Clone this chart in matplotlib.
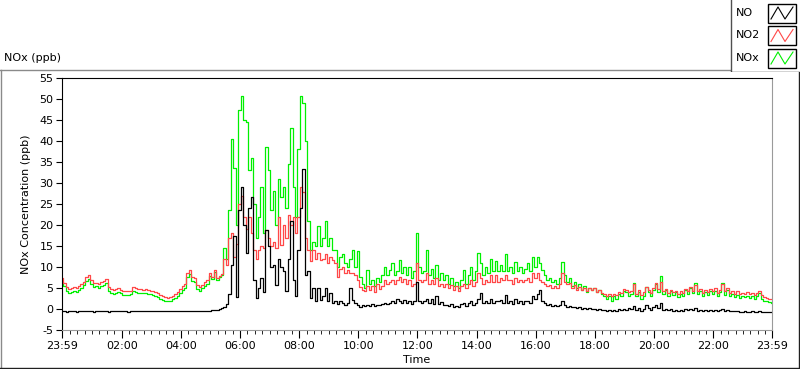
import numpy as np
import matplotlib
matplotlib.use("Agg")
import matplotlib.pyplot as plt
from matplotlib.patches import Rectangle

plt.rcParams['font.family'] = ['DejaVu Sans']
plt.rcParams['axes.unicode_minus'] = False

# 5-minute samples from 23:59 to 23:59 (minutes since start), one row per hour
minutes = np.arange(0, 1441, 5)

no_ppb = [
    -0.5, -0.5, -0.6, -0.5, -0.5, -0.5, -0.6, -0.5, -0.5, -0.5, -0.5, -0.5,
    -0.5, -0.6, -0.5, -0.5, -0.5, -0.5, -0.5, -0.6, -0.5, -0.5, -0.5, -0.5,
    -0.5, -0.5, -0.5, -0.6, -0.5, -0.5, -0.5, -0.5, -0.5, -0.4, -0.5, -0.5,
    -0.5, -0.5, -0.5, -0.5, -0.5, -0.5, -0.5, -0.5, -0.4, -0.5, -0.5, -0.5,
    -0.5, -0.5, -0.5, -0.4, -0.5, -0.5, -0.5, -0.5, -0.5, -0.5, -0.5, -0.4,
    -0.4, -0.3, -0.3, -0.2, 0.0, 0.2, 0.5, 1.2, 3.5, 10.5, 17.5, 2.8,
    23.5, 29.0, 20.0, 13.4, 24.0, 26.6, 7.0, 2.6, 5.0, 7.4, 4.0, 18.7,
    15.0, 10.0, 10.5, 5.8, 12.0, 10.0, 9.0, 4.3, 12.0, 21.0, 7.0, 3.0,
    14.0, 24.0, 33.4, 8.0, 9.0, 2.6, 5.0, 2.0, 5.0, 2.2, 3.0, 5.0,
    2.0, 3.8, 1.4, 1.8, 1.2, 2.0, 1.5, 1.0, 1.5, 5.0, 2.2, 1.5,
    1.0, 0.5, 1.0, 0.6, 1.0, 0.8, 1.2, 0.6, 1.0, 0.9, 1.3, 1.5,
    1.2, 1.5, 2.0, 1.5, 2.5, 1.8, 1.4, 2.2, 1.5, 2.0, 1.2, 1.8,
    6.5, 1.8, 1.5, 2.0, 2.5, 1.5, 2.5, 1.2, 3.0, 1.2, 1.6, 1.0,
    1.0, 0.6, 1.2, 0.5, 0.8, 0.4, 1.2, 1.5, 0.8, 1.5, 2.0, 1.0,
    1.5, 2.5, 3.8, 1.5, 2.0, 1.5, 2.5, 1.5, 2.0, 1.8, 2.2, 1.5,
    3.4, 1.5, 2.0, 1.2, 2.5, 1.5, 1.8, 1.2, 1.8, 2.0, 1.5, 3.0,
    2.5, 3.5, 4.5, 2.0, 1.5, 1.0, 1.2, 0.8, 1.0, 0.6, 1.0, 2.0,
    1.0, 0.5, 0.8, 0.4, 0.5, 0.2, 0.5, 0.0, 0.3, -0.1, 0.2, 0.0,
    0.0, -0.2, 0.0, -0.3, -0.2, -0.4, -0.3, -0.5, -0.2, -0.4, -0.1, -0.3,
    0.0, -0.2, 0.2, -0.1, 0.6, -0.3, 0.2, -0.4, 0.0, 1.0, 0.3, -0.2,
    0.5, 1.0, 0.2, 1.5, -0.2, 0.0, -0.3, -0.1, -0.4, -0.2, -0.4, -0.3,
    -0.4, -0.1, -0.3, 0.0, -0.3, 0.2, -0.4, -0.2, -0.4, -0.3, -0.4, -0.2,
    -0.4, -0.2, -0.5, -0.3, 0.0, -0.4, -0.2, -0.5, -0.4, -0.5, -0.5, -0.6,
    -0.6, -0.5, -0.6, -0.6, -0.5, -0.7, -0.6, -0.5, -0.7, -0.7, -0.7, -0.7,
    -0.7,
]

no2_ppb = [
    7.4, 6.3, 5.2, 4.8, 4.9, 5.3, 5.0, 5.5, 5.9, 6.5, 7.6, 8.1,
    6.8, 6.1, 6.3, 6.0, 6.4, 6.6, 7.1, 5.3, 4.8, 4.5, 4.7, 5.0,
    4.6, 4.3, 4.2, 4.3, 4.4, 5.3, 5.0, 4.8, 4.8, 4.6, 4.7, 4.5,
    4.4, 4.2, 4.0, 3.8, 3.4, 3.0, 2.8, 2.7, 2.9, 3.2, 3.6, 4.1,
    4.8, 5.5, 6.0, 8.6, 9.2, 7.6, 7.3, 5.6, 5.3, 5.8, 6.4, 6.9,
    8.6, 7.6, 9.4, 7.4, 7.9, 8.4, 11.8, 10.5, 17.0, 18.0, 12.5, 15.5,
    25.0, 27.0, 22.0, 19.0, 22.0, 18.0, 14.0, 12.0, 14.0, 15.0, 14.5, 18.7,
    17.0, 15.0, 16.0, 14.5, 21.8, 15.3, 20.0, 17.0, 22.5, 20.0, 21.8, 18.0,
    22.0, 29.0, 27.8, 17.0, 14.0, 11.5, 14.0, 12.0, 13.4, 11.7, 12.0, 13.0,
    11.0, 12.5, 11.7, 11.0, 7.7, 9.5, 10.0, 8.6, 9.4, 8.6, 8.6, 8.0,
    7.0, 5.3, 4.5, 4.2, 5.5, 4.6, 5.5, 4.0, 6.0, 4.8, 5.5, 7.0,
    6.0, 6.5, 7.0, 6.0, 6.8, 7.7, 6.5, 7.2, 6.0, 7.0, 5.5, 6.0,
    11.0, 7.0, 6.5, 7.0, 8.5, 6.0, 7.0, 6.0, 7.5, 5.5, 6.0, 5.3,
    6.0, 5.0, 5.8, 4.5, 5.5, 4.3, 5.5, 6.0, 5.0, 6.0, 7.0, 5.5,
    6.5, 8.6, 7.5, 6.0, 7.0, 6.5, 8.0, 6.5, 8.0, 6.5, 7.5, 7.0,
    8.0, 7.0, 7.0, 6.0, 7.5, 6.5, 7.0, 6.5, 7.0, 7.5, 6.5, 8.6,
    7.5, 8.6, 7.0, 6.5, 6.0, 5.5, 5.8, 5.0, 5.5, 5.0, 6.0, 8.5,
    6.5, 6.0, 6.2, 5.0, 5.8, 4.5, 5.3, 4.5, 5.0, 4.2, 5.0, 4.5,
    5.0, 4.0, 4.6, 3.8, 3.5, 3.2, 3.6, 3.0, 3.6, 3.3, 4.0, 3.8,
    4.8, 4.6, 4.0, 4.2, 6.0, 3.6, 4.6, 3.4, 4.0, 5.3, 4.5, 3.8,
    5.0, 6.2, 4.8, 6.5, 4.2, 4.8, 3.8, 4.5, 4.0, 4.4, 3.6, 4.2,
    3.8, 4.8, 4.2, 5.3, 4.4, 5.8, 4.2, 4.8, 3.8, 4.5, 4.0, 4.7,
    4.2, 5.0, 3.9, 4.6, 6.0, 4.2, 5.0, 3.9, 4.4, 3.6, 4.2, 3.5,
    3.8, 3.6, 4.0, 3.5, 3.8, 3.4, 3.8, 4.4, 3.4, 2.9, 2.6, 2.4,
    2.3,
]

nox_ppb = [
    6.5, 5.4, 4.3, 3.8, 4.0, 4.4, 4.1, 4.6, 5.0, 5.6, 6.7, 7.2,
    5.9, 5.2, 5.4, 5.1, 5.5, 5.7, 6.2, 4.4, 3.9, 3.6, 3.8, 4.1,
    3.7, 3.4, 3.3, 3.4, 3.5, 4.4, 4.1, 3.9, 3.9, 3.7, 3.8, 3.6,
    3.5, 3.3, 3.1, 2.9, 2.5, 2.1, 1.9, 1.8, 2.0, 2.3, 2.7, 3.2,
    3.9, 4.6, 5.1, 7.7, 8.3, 6.7, 6.4, 4.7, 4.4, 4.9, 5.5, 6.0,
    7.9, 7.1, 8.7, 6.9, 7.6, 8.2, 14.5, 12.0, 23.5, 40.5, 33.5, 20.0,
    47.5, 50.8, 45.0, 44.6, 33.0, 36.0, 25.0, 17.0, 22.0, 29.0, 18.0, 38.6,
    33.0, 23.5, 28.0, 20.0, 31.0, 26.6, 29.0, 24.0, 34.5, 43.0, 29.0, 22.0,
    38.0, 50.6, 49.0, 40.0, 21.0, 14.0, 16.0, 15.0, 19.7, 15.0, 17.0, 21.0,
    15.0, 17.0, 14.0, 14.0, 10.0, 12.5, 13.0, 11.0, 10.0, 12.0, 14.0, 10.0,
    13.7, 7.7, 6.0, 5.0, 9.4, 6.0, 7.0, 5.5, 7.5, 6.5, 8.0, 10.0,
    8.0, 9.4, 11.0, 8.0, 9.0, 11.7, 8.5, 10.0, 8.0, 10.0, 7.5, 9.0,
    18.2, 10.0, 8.5, 9.0, 14.0, 8.0, 9.5, 7.5, 10.5, 7.0, 8.5, 7.0,
    8.0, 6.0, 7.5, 5.5, 6.5, 5.0, 7.0, 9.4, 6.0, 8.0, 10.0, 7.0,
    9.0, 13.4, 11.0, 8.0, 10.0, 8.5, 12.0, 9.0, 11.5, 9.0, 10.5, 9.0,
    13.0, 9.0, 10.0, 8.5, 11.3, 9.0, 10.0, 8.5, 9.5, 11.0, 9.0, 12.5,
    10.0, 12.5, 11.0, 9.4, 8.0, 7.0, 7.5, 6.5, 7.0, 6.0, 7.5, 11.3,
    8.0, 6.5, 7.4, 5.5, 6.5, 5.0, 6.0, 4.5, 5.5, 4.0, 5.0, 4.5,
    5.0, 4.0, 4.5, 3.5, 3.0, 2.5, 3.0, 2.0, 3.0, 2.5, 3.5, 3.0,
    4.2, 4.0, 3.2, 3.5, 6.2, 3.0, 4.0, 2.5, 3.2, 5.3, 4.0, 3.0,
    4.5, 6.0, 4.0, 7.9, 3.5, 4.5, 3.0, 4.2, 3.3, 4.0, 2.8, 3.6,
    3.0, 4.5, 3.5, 5.0, 3.8, 6.2, 3.5, 4.2, 3.0, 4.0, 3.3, 4.2,
    3.5, 4.4, 3.2, 4.0, 6.2, 3.4, 4.5, 3.0, 3.6, 2.8, 3.3, 2.6,
    3.0, 2.8, 3.2, 2.7, 3.0, 2.5, 3.0, 3.8, 2.5, 2.0, 1.8, 1.6,
    1.5,
]

tick_minutes = [0, 121, 241, 361, 481, 601, 721, 841, 961, 1081, 1201, 1321, 1440]
tick_labels = ["23:59", "02:00", "04:00", "06:00", "08:00", "10:00", "12:00",
               "14:00", "16:00", "18:00", "20:00", "22:00", "23:59"]

series_names = ["NO", "NO2", "NOx"]
series_colors = ["#000000", "#ff4848", "#00f000"]

W, H = 800, 369
fig = plt.figure(figsize=(W / 100, H / 100), dpi=100, facecolor="white")

# background frame (pixel coordinates)
bg = fig.add_axes([0, 0, 1, 1])
bg.set_xlim(0, W)
bg.set_ylim(H, 0)
bg.axis("off")
bg.plot([0, 730], [69.5, 69.5], color="#8a8a8a", lw=1)
bg.plot([0.5, 0.5], [69.5, 367.5], color="#8a8a8a", lw=1)
bg.plot([0, 799], [367.5, 367.5], color="#202020", lw=1)
bg.plot([798.5, 798.5], [71.5, 367.5], color="#202020", lw=1)
bg.text(4, 58, "NOx (ppb)", fontsize=8, va="center", ha="left")

# main plot
ax = fig.add_axes([62 / W, 1 - 330 / H, 710 / W, 252 / H])
ax.plot(minutes, nox_ppb, color=series_colors[2], lw=0.9, drawstyle="steps-mid")
ax.plot(minutes, no2_ppb, color=series_colors[1], lw=0.9, drawstyle="steps-mid")
ax.plot(minutes, no_ppb, color=series_colors[0], lw=0.9, drawstyle="steps-mid")

ax.set_xlim(0, 1440)
ax.set_ylim(-5, 55)
ax.set_yticks(np.arange(-5, 56, 5))
ax.set_xticks(tick_minutes)
ax.set_xticklabels(tick_labels)
ax.set_xticks(np.arange(16, 1440, 15), minor=True)
ax.tick_params(axis="both", labelsize=8, color="black", direction="out")
ax.tick_params(axis="x", which="major", length=6, pad=2)
ax.tick_params(axis="x", which="minor", length=3)
ax.tick_params(axis="y", length=4, pad=2)
ax.set_xlabel("Time", fontsize=8, labelpad=3)
ax.set_ylabel("NOx Concentration (ppb)", fontsize=8, labelpad=6)
for side in ("left", "top"):
    ax.spines[side].set_color("black")
for side in ("right", "bottom"):
    ax.spines[side].set_color("#9a9a9a")

# legend box top right
leg = fig.add_axes([730 / W, 1 - 72 / H, 69 / W, 72 / H])
leg.set_xlim(0, 69)
leg.set_ylim(72, 0)
leg.axis("off")
leg.plot([0.5, 0.5], [0, 71.5], color="#505050", lw=1)
leg.plot([0.5, 69], [71.5, 71.5], color="#202020", lw=1)
for i, (name, col) in enumerate(zip(series_names, series_colors)):
    yc = 13 + 22.5 * i
    leg.text(6, yc, name, fontsize=8, va="center", ha="left")
    leg.add_patch(Rectangle((38, yc - 9.5), 28, 19, fill=False, ec="black", lw=1))
    leg.plot([41, 48, 55, 63], [yc + 6, yc - 6, yc + 6, yc - 6], color=col, lw=0.8)

fig.savefig("out.png", dpi=100, facecolor="white")
